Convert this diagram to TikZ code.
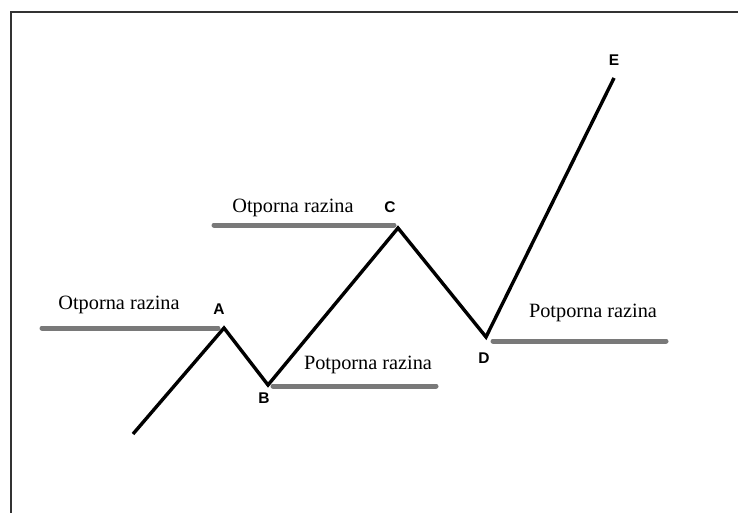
\documentclass[tikz,border=0pt]{standalone}
\usepackage{fontspec}
\setmainfont{Liberation Serif}
\newfontfamily\labelfont{Liberation Sans}
\begin{document}
\begin{tikzpicture}[x=1pt,y=-1pt,
  price/.style={line width=3.4pt,black,line join=miter},
  level/.style={line width=5pt,gray!95!black,line cap=round},
  leveltext/.style={font=\fontsize{20.3}{23}\selectfont,inner sep=0pt,anchor=center},
  pt/.style={font=\labelfont\bfseries\fontsize{15.5}{17}\selectfont,inner sep=0pt,anchor=center},
  frame/.style={line width=2pt,black!80}]
\useasboundingbox (0,0) rectangle (738,513);
\draw[frame] (11,513) -- (11,12) -- (738,12);
% turning points
\coordinate (S) at (133,434);
\coordinate (A) at (224,328);
\coordinate (B) at (268,385);
\coordinate (C) at (398,228);
\coordinate (D) at (486,337);
\coordinate (E) at (614,78);
% level line ends
\coordinate (L1a) at (42,328);  \coordinate (L1b) at (218,328);
\coordinate (L2a) at (273,386); \coordinate (L2b) at (436,386);
\coordinate (L3a) at (214,225); \coordinate (L3b) at (394,225);
\coordinate (L4a) at (493,341); \coordinate (L4b) at (666,341);
\draw[level] (L1a) -- (L1b);
\draw[level] (L2a) -- (L2b);
\draw[level] (L3a) -- (L3b);
\draw[level] (L4a) -- (L4b);
\draw[price] (S) -- (A) -- (B) -- (C) -- (D) -- (E);
% texts
\node[leveltext] (t1) at (119,305) {Otporna razina};
\node[leveltext] (t2) at (293,208) {Otporna razina};
\node[leveltext] (t3) at (368,365) {Potporna razina};
\node[leveltext] (t4) at (593,313) {Potporna razina};
\node[pt] (lA) at (219,309) {A};
\node[pt] (lB) at (264,398) {B};
\node[pt] (lC) at (390,207) {C};
\node[pt] (lD) at (484,358) {D};
\node[pt] (lE) at (614,60) {E};
\end{tikzpicture}
\end{document}
